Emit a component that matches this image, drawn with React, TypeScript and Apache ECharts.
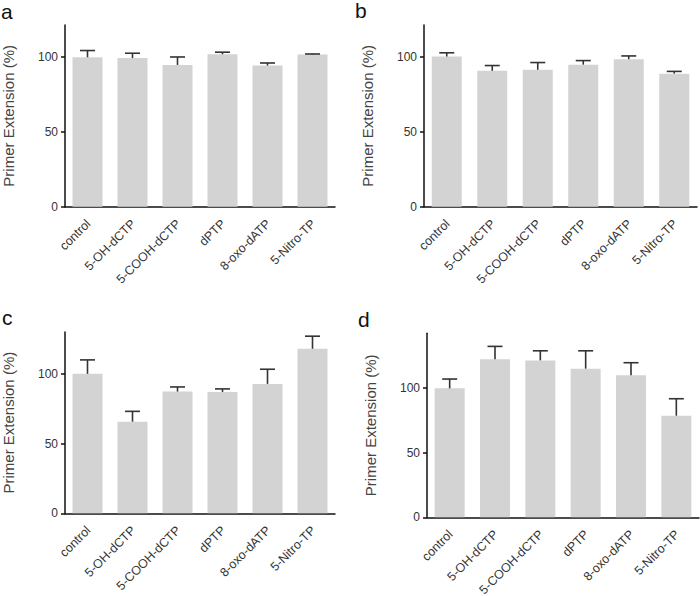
import React, { useEffect, useRef } from "react";
import * as echarts from "echarts";

const categories = ["control", "5-OH-dCTP", "5-COOH-dCTP", "dPTP", "8-oxo-dATP", "5-Nitro-TP"];

const valuesA = [99.5, 99, 94.4, 101.5, 94, 101.3];
const errorsA = [4.5, 3.2, 5.3, 1.4, 1.7, 0.4];

const valuesB = [100, 90.5, 91.2, 94.6, 98.2, 88.6];
const errorsB = [2.5, 3.5, 4.8, 2.7, 2.2, 1.5];

const valuesC = [100, 65.7, 87.3, 87.0, 92.8, 118];
const errorsC = [10, 7.4, 3.3, 2.2, 10.5, 9];

const valuesD = [99.5, 121.9, 121.1, 114.7, 109.6, 78.4];
const errorsD = [7.2, 10, 7.4, 13.8, 9.7, 13.1];

const yTicks = [0, 50, 100];
const panelLetters = ["a", "b", "c", "d"];
const yMaxes = [121, 121, 130, 142];
const yName = "Primer Extension (%)";

const FONT = "Liberation Sans, Arial, sans-serif";

export default function App() {
  const ref = useRef<HTMLDivElement>(null);
  useEffect(() => {
    document.body.style.margin = "0";
    if (!ref.current) return;
    const chart = echarts.init(ref.current, null, { renderer: "svg" });

    const panels = [
      { values: valuesA, errors: errorsA, grid: { left: 62, top: 25, width: 273, height: 181.7 } },
      { values: valuesB, errors: errorsB, grid: { left: 424, top: 25, width: 273, height: 181.7 } },
      { values: valuesC, errors: errorsC, grid: { left: 62, top: 332, width: 273, height: 181.3 } },
      { values: valuesD, errors: errorsD, grid: { left: 427, top: 333.3, width: 272, height: 184 } },
    ];

    const grids = panels.map((p) => ({ ...p.grid, containLabel: false }));
    const xAxes = panels.map((_, i) => ({
      type: "category",
      gridIndex: i,
      data: categories,
      axisLine: { lineStyle: { color: "#111", width: 1.5 } },
      axisTick: { show: false },
      axisLabel: { show: false },
      splitLine: { show: false },
    }));
    const yAxes = panels.map((_, i) => ({
      type: "value",
      gridIndex: i,
      min: 0,
      max: yMaxes[i],
      name: yName,
      nameLocation: "middle",
      nameGap: 49,
      nameTextStyle: { fontSize: 15, color: "#444", fontFamily: FONT },
      axisLine: { show: true, lineStyle: { color: "#111", width: 1.5 } },
      axisTick: { show: true, length: 4, customValues: yTicks, lineStyle: { color: "#111", width: 1.5 } },
      axisLabel: { customValues: yTicks, fontSize: 12, color: "#333", fontFamily: FONT, margin: 7 },
      splitLine: { show: false },
    }));

    const series: any[] = [];
    panels.forEach((p, i) => {
      series.push({
        type: "bar",
        xAxisIndex: i,
        yAxisIndex: i,
        data: p.values,
        barWidth: 30,
        itemStyle: { color: "#d3d3d3" },
        silent: true,
      });
      series.push({
        type: "custom",
        xAxisIndex: i,
        yAxisIndex: i,
        data: p.values.map((v, k) => [k, v, p.errors[k]]),
        encode: { x: 0, y: 1 },
        z: 5,
        silent: true,
        renderItem: (params: any, api: any) => {
          const x = api.value(0);
          const v = api.value(1);
          const e = api.value(2);
          const p0 = api.coord([x, v]);
          const p1 = api.coord([x, v + e]);
          const style = { stroke: "#333", lineWidth: 1.6 };
          return {
            type: "group",
            children: [
              { type: "line", shape: { x1: p0[0], y1: p0[1], x2: p1[0], y2: p1[1] }, style },
              { type: "line", shape: { x1: p1[0] - 7.5, y1: p1[1], x2: p1[0] + 7.5, y2: p1[1] }, style },
            ],
          };
        },
      });
    });

    const letterPos = [
      { x: 1, y: 1 },
      { x: 355, y: 0 },
      { x: 2, y: 307 },
      { x: 358, y: 309 },
    ];

    chart.setOption({
      animation: false,
      textStyle: { fontFamily: FONT },
      grid: grids,
      xAxis: xAxes,
      yAxis: yAxes,
      series,
    });

    const graphics: any[] = panelLetters.map((t, i) => ({
      type: "text",
      x: letterPos[i].x,
      y: letterPos[i].y,
      style: { text: t, fontSize: 21, fill: "#111", fontFamily: FONT, verticalAlign: "top" },
    }));

    panels.forEach((_, i) => {
      categories.forEach((c, k) => {
        const pt = chart.convertToPixel({ gridIndex: i }, [k, 0]) as number[];
        graphics.push({
          type: "text",
          x: pt[0] + 1,
          y: pt[1] + 15,
          rotation: Math.PI / 4,
          style: {
            text: c,
            fontSize: 12.5,
            fill: "#333",
            fontFamily: FONT,
            align: "right",
            verticalAlign: "middle",
          },
        });
      });
    });

    chart.setOption({ graphic: graphics });
    return () => chart.dispose();
  }, []);
  return <div ref={ref} style={{ width: 700, height: 596 }} />;
}
